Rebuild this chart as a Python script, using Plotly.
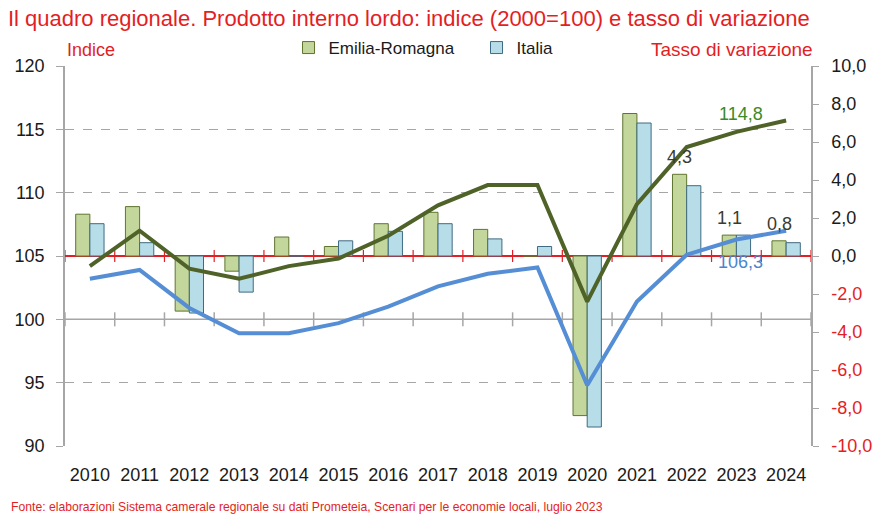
import plotly.graph_objects as go

years = [2010, 2011, 2012, 2013, 2014, 2015, 2016, 2017, 2018, 2019, 2020, 2021, 2022, 2023, 2024]
er_var = [2.2, 2.6, -2.9, -0.8, 1.0, 0.5, 1.7, 2.3, 1.4, 0.0, -8.4, 7.5, 4.3, 1.1, 0.8]
it_var = [1.7, 0.7, -3.0, -1.9, 0.0, 0.8, 1.3, 1.7, 0.9, 0.5, -9.0, 7.0, 3.7, 1.1, 0.7]
er_index = [104.2, 107.0, 104.0, 103.2, 104.2, 104.8, 106.6, 109.0, 110.6, 110.6, 101.4, 109.1, 113.6, 114.8, 115.7]
it_index = [103.2, 103.9, 100.9, 98.9, 98.9, 99.7, 101.0, 102.6, 103.6, 104.1, 94.8, 101.4, 105.1, 106.3, 107.0]

er_bar_label_years = [2022, 2023, 2024]
index_label_year = 2023

left_tickvals = [90, 95, 100, 105, 110, 115, 120]
right_tickvals = [-10, -8, -6, -4, -2, 0, 2, 4, 6, 8, 10]
right_ticktext = [("<span style='color:#e31e24'>%s</span>" if v < 0 else "%s") % ("%.1f" % v).replace(".", ",")
                  for v in right_tickvals]

RED = "#e31e24"
FONT = "Liberation Sans, Arial, sans-serif"

fig = go.Figure()
fig.add_trace(go.Bar(x=years, y=er_var, name="Emilia-Romagna", yaxis="y",
                     marker=dict(color="#c3d69b", line=dict(color="#5f7530", width=1))))
fig.add_trace(go.Bar(x=years, y=it_var, name="Italia", yaxis="y",
                     marker=dict(color="#b7dde8", line=dict(color="#3f6a82", width=1))))
fig.add_trace(go.Scatter(x=years, y=er_index, mode="lines", yaxis="y2", showlegend=False,
                         line=dict(color="#4f6228", width=4)))
fig.add_trace(go.Scatter(x=years, y=it_index, mode="lines", yaxis="y2", showlegend=False,
                         line=dict(color="#558ed5", width=4)))

shapes = []
# solid line at 100 on index axis
shapes.append(dict(type="line", xref="paper", x0=0, x1=1, yref="y2", y0=100, y1=100,
                   line=dict(color="#a6a6a6", width=1.5), layer="below"))
boundaries = [y - 0.5 for y in years] + [years[-1] + 0.5]
for b in boundaries:
    shapes.append(dict(type="line", xref="x", x0=b, x1=b, yref="y2", ysizemode="pixel",
                       yanchor=100, y0=-7, y1=7, line=dict(color="#a6a6a6", width=1.5), layer="below"))
    shapes.append(dict(type="line", xref="x", x0=b, x1=b, yref="y", ysizemode="pixel",
                       yanchor=0, y0=-6, y1=6, line=dict(color=RED, width=1.2), layer="below"))

annotations = []
for yr in er_bar_label_years:
    v = er_var[years.index(yr)]
    annotations.append(dict(x=yr, y=v, xref="x", yref="y", text=("%.1f" % v).replace(".", ","),
                            showarrow=False, xshift=-7, yshift=17, yanchor="middle",
                            font=dict(family=FONT, size=18, color="#3b3b30")))
i = years.index(index_label_year)
annotations.append(dict(x=index_label_year, y=er_index[i], xref="x", yref="y2",
                        text=("%.1f" % er_index[i]).replace(".", ","), showarrow=False,
                        xshift=5, yshift=18, yanchor="middle",
                        font=dict(family=FONT, size=18, color="#3a8a2a")))
annotations.append(dict(x=index_label_year, y=it_index[i], xref="x", yref="y2",
                        text=("%.1f" % it_index[i]).replace(".", ","), showarrow=False,
                        xshift=4, yshift=-22, yanchor="middle",
                        font=dict(family=FONT, size=18, color="#4a86d0")))
annotations.append(dict(xref="paper", yref="paper", x=0, y=1, xanchor="left", yanchor="bottom",
                        yshift=4, text="Indice", showarrow=False,
                        font=dict(family=FONT, size=18, color=RED)))
annotations.append(dict(xref="paper", yref="paper", x=1, y=1, xanchor="right", yanchor="bottom",
                        yshift=4, xshift=4, text="Tasso di variazione", showarrow=False,
                        font=dict(family=FONT, size=19, color=RED)))
annotations.append(dict(xref="paper", yref="paper", x=-65 / 751 + 9 / 751, y=0, xanchor="left",
                        yanchor="middle", yshift=-61,
                        text="Fonte: elaborazioni Sistema camerale regionale su dati Prometeia, Scenari per le economie locali, luglio 2023",
                        showarrow=False, font=dict(family=FONT, size=12.2, color=RED)))

fig.update_layout(
    width=884, height=516,
    margin=dict(l=65, r=68, t=66, b=70),
    paper_bgcolor="white", plot_bgcolor="white",
    barmode="group", bargap=0.43, bargroupgap=0,
    separators=",.",
    font=dict(family=FONT, size=18, color="#1a1a1a"),
    title=dict(text="Il quadro regionale. Prodotto interno lordo: indice (2000=100) e tasso di variazione",
               x=0.009, xanchor="left", y=0.965, yanchor="middle",
               font=dict(family=FONT, size=22, color=RED)),
    legend=dict(orientation="h", x=(290 - 65) / 751, xanchor="left", y=1, yanchor="bottom",
                font=dict(family=FONT, size=17, color="#1a1a1a"), bgcolor="rgba(0,0,0,0)",
                entrywidthmode="pixels", entrywidth=143, itemwidth=30, traceorder="normal"),
    xaxis=dict(range=[2009.5, 2024.5], tickvals=years, ticktext=[str(y) for y in years],
               showgrid=False, zeroline=False, showline=False, ticks="outside", ticklen=12,
               tickcolor="rgba(0,0,0,0)", tickfont=dict(size=18, color="#1a1a1a")),
    yaxis=dict(side="right", range=[-10, 10], tickvals=right_tickvals, ticktext=right_ticktext,
               showgrid=False, zeroline=True, zerolinecolor=RED, zerolinewidth=1.5,
               showline=True, linecolor="#a6a6a6", linewidth=1.5, ticks="outside", ticklen=6,
               tickcolor="#a6a6a6", ticklabelstandoff=9, tickfont=dict(size=18, color="#1a1a1a")),
    yaxis2=dict(side="left", overlaying="y", range=[90, 120], tickvals=left_tickvals,
                showgrid=True, gridcolor="#a6a6a6", griddash="dash", gridwidth=1, zeroline=False,
                showline=True, linecolor="#a6a6a6", linewidth=1.5, ticks="outside", ticklen=7,
                tickcolor="#a6a6a6", ticklabelstandoff=8, tickfont=dict(size=18, color="#1a1a1a")),
    shapes=shapes,
    annotations=annotations,
)

fig.write_html("out.html", config={"displayModeBar": False},
               post_script="document.body.style.margin='0';document.body.style.overflow='hidden';")
